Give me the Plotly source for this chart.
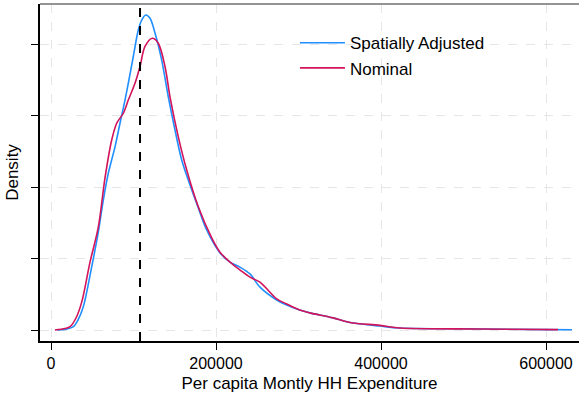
import plotly.graph_objects as go

# Data (x: per capita expenditure, y: density in 1e-6 units)
adj_x = [7270, 16970, 27030, 32730, 39150, 49330, 57330, 63390, 69450, 77580, 83640, 89700,
         93700, 99760, 105820, 109940, 114790, 120000, 126060, 134180, 142180, 150300,
         158420, 168480, 178540, 188730, 204850, 216970, 229090, 241210, 253330, 273580,
         285700, 301450, 313940, 341820, 362420, 398790, 423030, 520000, 601210, 631500]
adj_y = [0.0, 0.014, 0.092, 0.28, 0.65, 1.77, 2.74, 3.64, 4.39, 5.13, 5.79, 6.44,
         6.91, 7.66, 8.40, 8.68, 8.82, 8.73, 8.32, 7.56, 6.53, 5.60,
         4.76, 4.06, 3.42, 2.80, 2.16, 1.90, 1.76, 1.57, 1.20, 0.84,
         0.70, 0.56, 0.48, 0.34, 0.21, 0.11, 0.056, 0.03, 0.01, 0.005]

nom_x = [4850, 16970, 23030, 30300, 37210, 47270, 57330, 65450, 73580, 79640, 87640, 93700,
         101820, 107880, 113940, 122790, 130060, 138180, 144240, 154300, 164480, 178540,
         194790, 204850, 216970, 229090, 241210, 253330, 273580, 285700, 301450, 313940,
         341820, 362420, 398790, 423030, 520000, 614550]
nom_y = [0.0, 0.042, 0.092, 0.336, 0.78, 1.90, 2.88, 4.26, 5.32, 5.79, 6.07, 6.44,
         6.91, 7.38, 7.94, 8.17, 8.03, 7.38, 6.53, 5.41, 4.48, 3.45,
         2.58, 2.18, 1.90, 1.68, 1.48, 1.34, 0.87, 0.73, 0.56, 0.48,
         0.34, 0.21, 0.13, 0.056, 0.03, 0.01]

x_ticks = [0, 200000, 400000, 600000]
x_tick_labels = ["0", "200000", "400000", "600000"]
y_ticks = [0, 2, 4, 6, 8]
ref_line_x = 107900

scale = 1e-6
fig = go.Figure()
fig.add_trace(go.Scatter(x=adj_x, y=[v * scale for v in adj_y], mode="lines",
                         name="Spatially Adjusted",
                         line=dict(color="#1f8fff", width=1.6, shape="spline", smoothing=0.9)))
fig.add_trace(go.Scatter(x=nom_x, y=[v * scale for v in nom_y], mode="lines",
                         name="Nominal",
                         line=dict(color="#d3135a", width=1.6, shape="spline", smoothing=0.9)))

fig.add_shape(type="line", xref="x", yref="paper", x0=ref_line_x, x1=ref_line_x, y0=0, y1=1,
              line=dict(color="black", width=2, dash="dash"))
fig.add_shape(type="line", xref="paper", yref="paper", x0=0, x1=1, y0=1, y1=1,
              line=dict(color="#707070", width=1.5))

font = "Liberation Sans, Arial, sans-serif"
fig.update_layout(
    width=579, height=397,
    margin=dict(l=40, r=0, t=4, b=56),
    paper_bgcolor="white", plot_bgcolor="white",
    font=dict(family=font, size=16, color="black"),
    showlegend=True,
    legend=dict(x=0.473, y=0.937, xanchor="left", yanchor="top", bgcolor="rgba(0,0,0,0)",
                font=dict(size=17), tracegroupgap=0, itemwidth=45),
    xaxis=dict(range=[-13333, 640000], tickvals=x_ticks, ticktext=x_tick_labels,
               showgrid=True, gridcolor="#e6e6e6", griddash="dash", gridwidth=1.2,
               zeroline=False, showline=True, linecolor="black", linewidth=1.5,
               ticks="outside", ticklen=7, tickcolor="black",
               title=dict(text="Per capita Montly HH Expenditure", font=dict(size=17), standoff=6),
               tickfont=dict(size=16)),
    yaxis=dict(range=[-0.308e-6, 9.13e-6], tickvals=[v * scale for v in y_ticks],
               showticklabels=False,
               showgrid=True, gridcolor="#e6e6e6", griddash="dash", gridwidth=1.2,
               zeroline=False, showline=True, linecolor="black", linewidth=1.5,
               ticks="outside", ticklen=7, tickcolor="black",
               title=dict(text="Density", font=dict(size=17), standoff=8)),
)

fig.write_html("out.html")
